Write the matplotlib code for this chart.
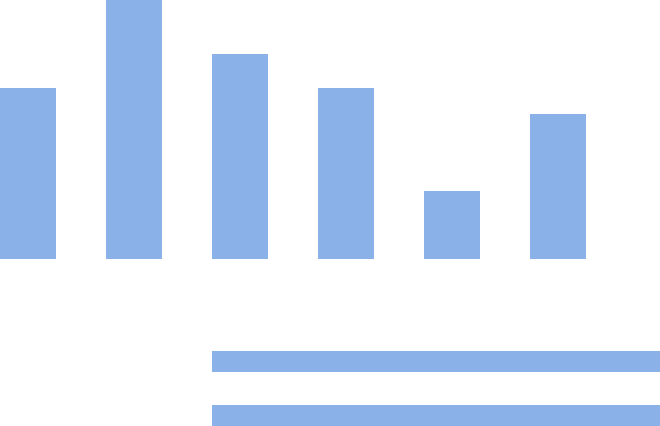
import matplotlib
matplotlib.use("Agg")
import matplotlib.pyplot as plt

# column heights (pixels above the baseline)
col_heights = [171, 259, 205, 171, 68, 145]
# horizontal placeholder rows: (start x, length)
row_starts = [212, 212]
row_lengths = [448, 448]

color = '#8AB2E8'

fig = plt.figure(figsize=(6.6, 4.27), dpi=100)
ax = fig.add_axes([0, 0, 1, 1])
ax.set_xlim(0, 660)
ax.set_ylim(427, 0)
ax.axis('off')

base = 259.5
xs = [i * 106 for i in range(len(col_heights))]
ax.bar(xs, [-h for h in col_heights], width=55.5, bottom=base, align='edge',
       color=color, linewidth=0)

ys = [351.5, 405.5]
ax.barh(ys, row_lengths, left=row_starts, height=21.5, align='edge',
        color=color, linewidth=0)

fig.savefig("out.png", dpi=100, facecolor='white')
